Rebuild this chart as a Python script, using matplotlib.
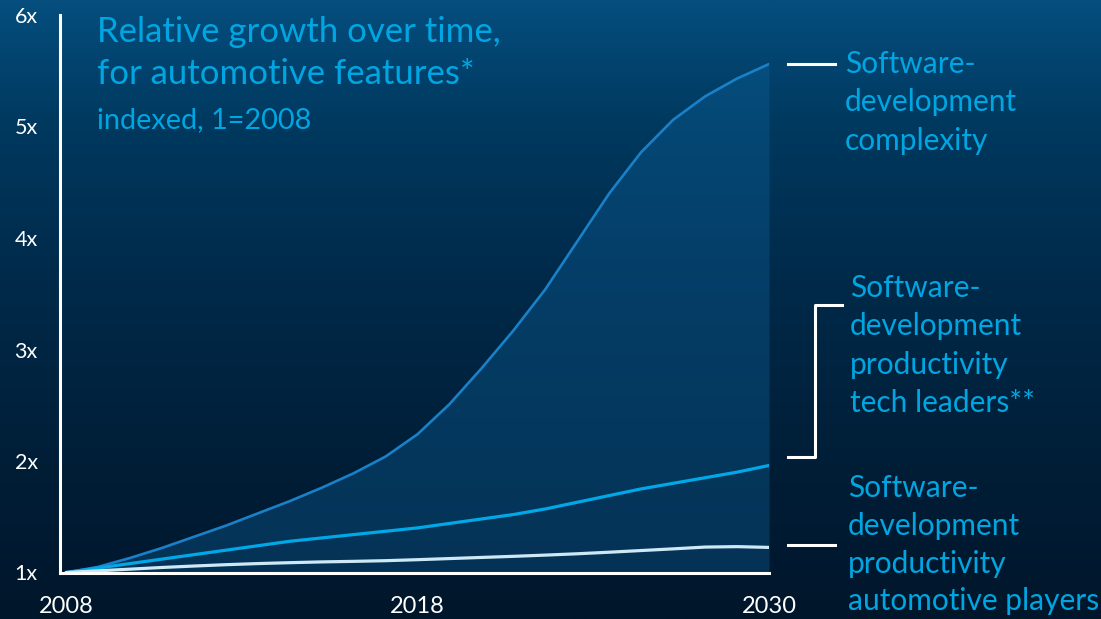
import numpy as np
import matplotlib
matplotlib.use("Agg")
import matplotlib.pyplot as plt
from matplotlib.colors import LinearSegmentedColormap

plt.rcParams["font.family"] = ["Lato", "DejaVu Sans"]

# data (index, 1 = 2008)
years = list(range(2008, 2031))
complexity = [1.00, 1.05, 1.13, 1.22, 1.32, 1.42, 1.53, 1.64, 1.76, 1.89, 2.04, 2.24,
              2.51, 2.83, 3.17, 3.54, 3.97, 4.40, 4.77, 5.06, 5.27, 5.43, 5.56]
tech_leaders = [1.00, 1.04, 1.08, 1.12, 1.16, 1.20, 1.24, 1.28, 1.31, 1.34, 1.37, 1.40,
                1.44, 1.48, 1.52, 1.57, 1.63, 1.69, 1.75, 1.80, 1.85, 1.90, 1.96]
auto_players = [1.00, 1.015, 1.03, 1.045, 1.058, 1.07, 1.08, 1.088, 1.095, 1.10, 1.106, 1.115,
                1.125, 1.135, 1.145, 1.156, 1.168, 1.182, 1.197, 1.212, 1.228, 1.232, 1.225]

y_ticks = [1, 2, 3, 4, 5, 6]
y_labels = ["1x", "2x", "3x", "4x", "5x", "6x"]
# the source puts its middle label halfway along the axis
x_ticks = [2008, 2019, 2030]
x_labels = ["2008", "2018", "2030"]

title_lines = ["Relative growth over time,", "for automotive features*"]
subtitle = "indexed, 1=2008"
label_complexity = ["Software-", "development", "complexity"]
label_leaders = ["Software-", "development", "productivity", "tech leaders**"]
label_players = ["Software-", "development", "productivity", "automotive players"]

W, H = 1101, 619
TXT = "#00a6e2"


def fx(px):
    return px / W


def fy(py):
    return 1 - py / H


fig = plt.figure(figsize=(W / 100, H / 100), dpi=100)

# background gradient
bg = fig.add_axes([0, 0, 1, 1], zorder=0)
bg_cmap = LinearSegmentedColormap.from_list(
    "bg", [(0.0, "#054e7e"), (0.2, "#00395f"), (0.45, "#002a4a"),
           (0.75, "#001e37"), (1.0, "#00162b")])
bg.imshow(np.linspace(0, 1, 256).reshape(-1, 1), cmap=bg_cmap, aspect="auto",
          extent=[0, 1, 0, 1])
bg.set_axis_off()

ax = fig.add_axes([fx(60), fy(572.5), fx(769 - 60), (572.5 - 15) / H], zorder=1)
ax.patch.set_alpha(0)

line_kw = dict(solid_capstyle="round", solid_joinstyle="round")
ax.fill_between(years, complexity, 1, color="#0d5f98", alpha=0.38, lw=0)
ax.plot(years, complexity, color="#1a80c8", lw=1.9, **line_kw)
ax.plot(years, tech_leaders, color="#00a8e8", lw=2.3, **line_kw)
ax.plot(years, auto_players, color="#cde9f6", lw=2.3, **line_kw)

ax.set_xlim(2007.81, 2030)
ax.set_ylim(1, 6)
for s in ["top", "right"]:
    ax.spines[s].set_visible(False)
for s in ["left", "bottom"]:
    ax.spines[s].set_color("white")
    ax.spines[s].set_linewidth(2.2)
ax.set_yticks(y_ticks, y_labels)
ax.set_xticks(x_ticks, x_labels)
ax.tick_params(axis="y", length=0, pad=16, labelsize=15.5, labelcolor="white")
ax.tick_params(axis="x", length=0, pad=17, labelsize=17, labelcolor="white")

# title
fig.text(fx(97), fy(42), title_lines[0], color=TXT, fontsize=25, va="baseline")
fig.text(fx(97), fy(84), title_lines[1], color=TXT, fontsize=25, va="baseline")
fig.text(fx(97), fy(128), subtitle, color=TXT, fontsize=20.8, va="baseline")

# series markers on the right
tr = ax.get_yaxis_transform()
kw = dict(color="white", lw=2.2, transform=tr, clip_on=False)
ax.plot([1.027, 1.093], [complexity[-1], complexity[-1]], **kw)
ax.plot([1.027, 1.093], [auto_players[-1] + 0.02, auto_players[-1] + 0.02], **kw)
bracket_lo, bracket_hi = 2.035, 3.40
ax.plot([1.027, 1.065, 1.065, 1.103], [bracket_lo, bracket_lo, bracket_hi, bracket_hi], **kw)


def put_lines(lines, x, baselines):
    for t, b in zip(lines, baselines):
        fig.text(fx(x), fy(b), t, color=TXT, fontsize=21.5, va="baseline")


put_lines(label_complexity, 845, [73, 111.5, 150])
put_lines(label_leaders, 850, [297, 335.5, 374, 412])
put_lines(label_players, 848, [497, 535, 572.5, 610])

fig.savefig("out.png", dpi=100)
